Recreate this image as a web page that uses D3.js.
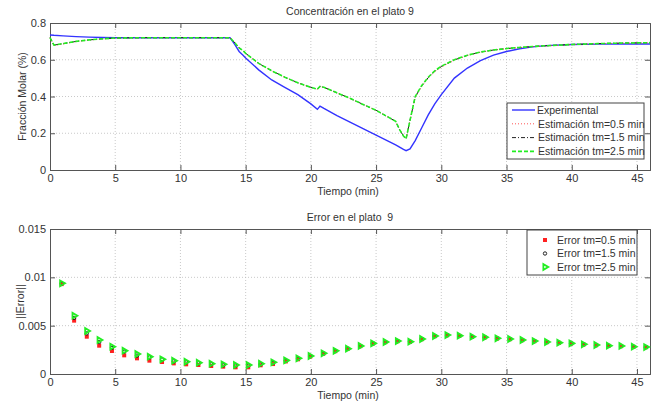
<!DOCTYPE html>
<html><head><meta charset="utf-8">
<script src="https://cdn.jsdelivr.net/npm/d3@7"></script>
<style>body{margin:0;background:#fff}svg{display:block;font-family:"Liberation Sans",Arial,sans-serif}</style>
</head><body><svg id="c" width="661" height="403"></svg>
<script>
// ---- Top panel data ----
const timeTop = [0,0.3,1,2,3,4,5,7,10,13.8,14.2,14.5,14.8,15,16,17,18,19,20,20.5,20.7,21,22,23,24,25,26,26.5,26.8,27.1,27.3,27.6,28,28.5,29,29.5,30,31,32,33,34,35,36,37,38,40,42,44,46];
const experimental = [0.735,0.733,0.73,0.726,0.723,0.721,0.72,0.72,0.72,0.72,0.68,0.645,0.625,0.61,0.545,0.49,0.45,0.41,0.36,0.33,0.348,0.335,0.296,0.26,0.225,0.19,0.155,0.137,0.125,0.112,0.105,0.115,0.16,0.23,0.30,0.36,0.41,0.50,0.555,0.595,0.625,0.645,0.66,0.67,0.677,0.683,0.685,0.686,0.686];
const est05 = [0.72,0.678,0.686,0.699,0.707,0.713,0.717,0.72,0.72,0.72,0.69,0.664,0.65,0.634,0.579,0.539,0.504,0.474,0.449,0.439,0.454,0.449,0.419,0.389,0.356,0.324,0.284,0.264,0.22,0.186,0.172,0.27,0.395,0.455,0.5,0.535,0.56,0.597,0.623,0.641,0.652,0.66,0.666,0.671,0.675,0.682,0.687,0.69,0.692];
const est15 = [0.72,0.68,0.687,0.7,0.708,0.714,0.718,0.72,0.72,0.72,0.69,0.665,0.65,0.635,0.58,0.54,0.505,0.475,0.45,0.44,0.455,0.45,0.42,0.39,0.357,0.325,0.285,0.265,0.22,0.185,0.17,0.27,0.398,0.458,0.503,0.538,0.563,0.599,0.624,0.642,0.653,0.661,0.667,0.672,0.676,0.683,0.688,0.691,0.693];
const est25 = [0.72,0.68,0.688,0.70,0.708,0.714,0.718,0.72,0.72,0.72,0.69,0.665,0.65,0.635,0.58,0.54,0.505,0.475,0.45,0.44,0.455,0.45,0.42,0.39,0.357,0.325,0.285,0.265,0.22,0.185,0.17,0.27,0.40,0.46,0.505,0.54,0.565,0.60,0.625,0.642,0.653,0.661,0.667,0.672,0.676,0.683,0.688,0.691,0.693];
const xTicks = [0,5,10,15,20,25,30,35,40,45];
const yTicksTop = [0,0.2,0.4,0.6,0.8];
const legendTop = ["Experimental","Estimación tm=0.5 min","Estimación tm=1.5 min","Estimación tm=2.5 min"];

// ---- Bottom panel data ----
const timeErr = [0.9,1.85,2.82,3.77,4.75,5.69,6.67,7.62,8.59,9.49,10.44,11.38,12.36,13.28,14.23,15.2,16.15,17.1,18.08,19.02,19.95,20.95,21.87,22.82,23.79,24.75,25.7,26.64,27.6,28.5,29.49,30.44,31.38,32.36,33.33,34.28,35.25,36.2,37.13,38.08,39.02,39.95,40.9,41.86,42.82,43.78,44.73,45.68];
const err05 = [0.0093,0.00552,0.00386,0.00293,0.00238,0.00193,0.00162,0.00138,0.00124,0.0011,0.001,0.00093,0.00083,0.00076,0.00069,0.00069,0.0009,0.00103,0.0013,0.00152,0.0018,0.0021,0.00236,0.0026,0.00288,0.00315,0.00329,0.00339,0.00332,0.0036,0.00391,0.00401,0.00394,0.00384,0.00378,0.00367,0.0036,0.0035,0.00339,0.00329,0.00322,0.00315,0.00305,0.00298,0.00291,0.00288,0.00281,0.00277];
const err15 = [0.00935,0.0058,0.0042,0.0033,0.0027,0.0023,0.0019,0.0017,0.0015,0.0013,0.0012,0.0011,0.001,0.0009,0.00085,0.00085,0.001,0.00115,0.00137,0.00158,0.00184,0.00212,0.00238,0.00261,0.00289,0.00316,0.0033,0.0034,0.00333,0.00361,0.00392,0.00402,0.00395,0.00385,0.00379,0.00368,0.00361,0.00351,0.0034,0.0033,0.00323,0.00316,0.00306,0.00299,0.00292,0.00289,0.00282,0.00278];
const err25 = [0.00938,0.00603,0.00445,0.00352,0.00283,0.00241,0.00207,0.00179,0.00152,0.00138,0.00127,0.00117,0.00107,0.001,0.00093,0.00093,0.00107,0.00121,0.00141,0.00162,0.00186,0.00214,0.0024,0.00262,0.0029,0.00317,0.00331,0.00341,0.00334,0.00362,0.00393,0.00403,0.00396,0.00386,0.0038,0.00369,0.00362,0.00352,0.00341,0.00331,0.00324,0.00317,0.00307,0.003,0.00293,0.0029,0.00283,0.00279];
const yTicksErr = [0,0.005,0.01,0.015];
const yTickLabelsErr = ["0","0.005","0.01","0.015"];
const legendErr = ["Error tm=0.5 min","Error tm=1.5 min","Error tm=2.5 min"];

const svg = d3.select("#c");
const L = 50, R = 650;
const x = d3.scaleLinear().domain([0,46]).range([L,R]);
const TXT = "#333", AX = "#555";

function panel(top, bottom, yDomain, yTicks, yLabels, title, ylab, ylabX) {
  const y = d3.scaleLinear().domain(yDomain).range([bottom, top]);
  const g = svg.append("g");
  g.selectAll(".gx").data(xTicks.slice(1)).enter().append("line")
    .attr("x1", d => x(d)).attr("x2", d => x(d)).attr("y1", top).attr("y2", bottom)
    .attr("stroke", "#bbb").attr("stroke-width", 0.8).attr("stroke-dasharray", "1,2");
  g.selectAll(".gy").data(yTicks.slice(1, -1)).enter().append("line")
    .attr("x1", L).attr("x2", R).attr("y1", d => y(d)).attr("y2", d => y(d))
    .attr("stroke", "#bbb").attr("stroke-width", 0.8).attr("stroke-dasharray", "1,2");
  const xb = d3.axisBottom(x).tickValues(xTicks).tickSize(-5).tickPadding(4).tickFormat(d3.format("d"));
  const xt = d3.axisTop(x).tickValues(xTicks).tickSize(-5).tickFormat("");
  const yl = d3.axisLeft(y).tickValues(yTicks).tickSize(-5).tickPadding(4).tickFormat((d,i) => yLabels[i]);
  const yr = d3.axisRight(y).tickValues(yTicks).tickSize(-5).tickFormat("");
  const ax = [
    g.append("g").attr("transform", `translate(0,${bottom})`).call(xb),
    g.append("g").attr("transform", `translate(0,${top})`).call(xt),
    g.append("g").attr("transform", `translate(${L},0)`).call(yl),
    g.append("g").attr("transform", `translate(${R},0)`).call(yr)
  ];
  ax.forEach(a => {
    a.select(".domain").attr("stroke", AX).attr("stroke-width", 1);
    a.selectAll(".tick line").attr("stroke", AX);
    a.selectAll("text").attr("fill", TXT).style("font-size", "11px").style("font-family", "Liberation Sans, Arial, sans-serif");
  });
  svg.append("text").attr("x", 350).attr("y", top - 8).attr("text-anchor", "middle")
    .attr("fill", TXT).style("font-size", "10.5px").style("white-space", "pre").text(title);
  svg.append("text").attr("x", 348).attr("y", bottom + 25).attr("text-anchor", "middle")
    .attr("fill", TXT).style("font-size", "10.5px").text("Tiempo (min)");
  svg.append("text").attr("transform", `translate(${ylabX},${(top+bottom)/2}) rotate(-90)`).attr("text-anchor", "middle")
    .attr("fill", TXT).style("font-size", "10.5px").text(ylab);
  return y;
}

// ---- Top panel ----
const yT = panel(23, 170, [0,0.8], yTicksTop, yTicksTop.map(d => d === 0 ? "0" : d3.format(".1f")(d)),
  "Concentración en el plato 9", "Fracción Molar (%)", 26);
const lineT = s => d3.line().x((d,i) => x(timeTop[i])).y(d => yT(d))(s);
const styles = [
  {data: experimental, color: "#3333ff", w: 1.4, dash: null},
  {data: est05, color: "#ff5555", w: 1, dash: "1,2"},
  {data: est15, color: "#222", w: 1, dash: "4,2,1,2"},
  {data: est25, color: "#22ee22", w: 1.6, dash: "4,2"}
];
styles.forEach(s => svg.append("path").attr("d", lineT(s.data)).attr("fill", "none")
  .attr("stroke", s.color).attr("stroke-width", s.w).attr("stroke-dasharray", s.dash));
const lg = svg.append("g").attr("transform", "translate(507,103)");
lg.append("rect").attr("width", 137).attr("height", 56).attr("fill", "#fff").attr("stroke", "#444").attr("stroke-width", 1);
styles.forEach((s, i) => {
  const yy = 7 + i * 13.8;
  lg.append("line").attr("x1", 5).attr("x2", 28).attr("y1", yy).attr("y2", yy)
    .attr("stroke", s.color).attr("stroke-width", s.w).attr("stroke-dasharray", s.dash);
  lg.append("text").attr("x", i === 0 ? 30 : 31).attr("y", yy + 3.8).attr("fill", TXT)
    .style("font-size", "10.5px").text(legendTop[i]);
});

// ---- Bottom panel ----
const yE = panel(229, 374, [0,0.015], yTicksErr, yTickLabelsErr, "Error en el plato  9", "||Error||", 24);
const tri = d3.symbol().type(d3.symbolTriangle).size(14);
function drawMarker(sel, k) {
  if (k === 0) sel.append("rect").attr("x", -2).attr("y", -2).attr("width", 4).attr("height", 4).attr("fill", "#ff2020");
  else if (k === 1) sel.append("circle").attr("r", 1.7).attr("fill", "none").attr("stroke", "#222").attr("stroke-width", 1);
  else sel.append("path").attr("d", tri()).attr("transform", "rotate(90)").attr("fill", "none").attr("stroke", "#22ee22").attr("stroke-width", 1.8);
}
[err05, err15, err25].forEach((arr, k) => {
  arr.forEach((v, i) => {
    const g = svg.append("g").attr("transform", `translate(${x(timeErr[i])},${yE(v)})`);
    drawMarker(g, k);
  });
});
const le = svg.append("g").attr("transform", "translate(527,230)");
le.append("rect").attr("width", 110).attr("height", 45).attr("fill", "#fff").attr("stroke", "#444").attr("stroke-width", 1);
legendErr.forEach((t, i) => {
  const yy = 10 + i * 13.5;
  drawMarker(le.append("g").attr("transform", `translate(18,${yy})`), i);
  le.append("text").attr("x", 30).attr("y", yy + 3.8).attr("fill", TXT).style("font-size", "10.5px").text(t);
});
</script></body></html>
